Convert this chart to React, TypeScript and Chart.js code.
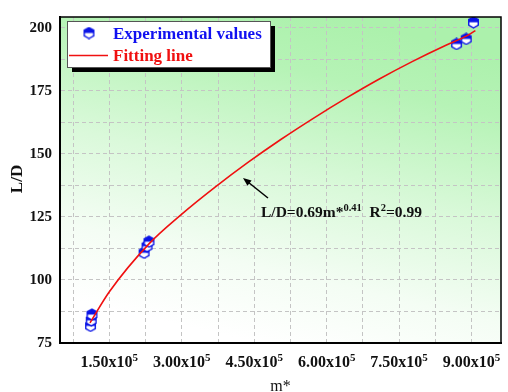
import React, { useEffect, useRef } from "react";
import { Chart, registerables } from "chart.js";

Chart.register(...registerables);

// Measured samples (m*, L/D)
const expM = [111000, 112500, 114000, 222000, 228000, 232000, 869000, 889000, 904000];
const expLD = [81.8, 84.0, 86.3, 110.8, 113.4, 115.2, 193.6, 195.6, 202.2];

// Fitted power-law curve, sampled along m*
const fitM = [110000, 150000, 232000, 300000, 369000, 437000, 505000, 574000, 642000, 710000, 778000, 847000, 888000, 908000];
const fitLD = [83.0, 95.3, 114.3, 126.1, 136.8, 146.6, 155.7, 164.3, 172.3, 179.8, 186.7, 193.1, 196.6, 198.9];

// Axis ticks
const xGridTicks = [75000, 150000, 225000, 300000, 375000, 450000, 525000, 600000, 675000, 750000, 825000, 900000];
const xLabelTicks = [150000, 300000, 450000, 600000, 750000, 900000];
const xLabelMantissa = ["1.50", "3.00", "4.50", "6.00", "7.50", "9.00"];
const xLabelExponent = "5";
const yGridTicks = [75, 87.5, 100, 112.5, 125, 137.5, 150, 162.5, 175, 187.5, 200];
const yLabelTicks = [75, 100, 125, 150, 175, 200];

const X_MIN = 47800;
const X_MAX = 961000;
const Y_MIN = 75;
const Y_MAX = 204.3;

const SERIF = '"Liberation Serif", "Times New Roman", serif';

function makeHexMarker(size: number): HTMLCanvasElement {
  const c = document.createElement("canvas");
  c.width = size;
  c.height = size;
  const ctx = c.getContext("2d")!;
  const cx = size / 2;
  const cy = size / 2;
  const r = size / 2 - 1;
  const path = () => {
    ctx.beginPath();
    for (let i = 0; i < 6; i++) {
      const a = (-90 + i * 60) * (Math.PI / 180);
      const px = cx + r * Math.cos(a);
      const py = cy + r * Math.sin(a);
      if (i === 0) ctx.moveTo(px, py);
      else ctx.lineTo(px, py);
    }
    ctx.closePath();
  };
  path();
  ctx.fillStyle = "#ffffff";
  ctx.fill();
  ctx.save();
  ctx.beginPath();
  ctx.rect(0, 0, size, cy);
  ctx.clip();
  path();
  ctx.fillStyle = "#0a14e6";
  ctx.fill();
  ctx.restore();
  path();
  ctx.strokeStyle = "#0a14e6";
  ctx.lineWidth = 1.4;
  ctx.stroke();
  return c;
}

type Part = { text: string; sup?: boolean };

function drawRich(
  ctx: CanvasRenderingContext2D,
  parts: Part[],
  x: number,
  y: number,
  size: number,
  supSize: number,
  align: "left" | "center",
  weight = "bold"
) {
  const widths = parts.map((p) => {
    ctx.font = `${weight} ${p.sup ? supSize : size}px ${SERIF}`;
    return ctx.measureText(p.text).width;
  });
  const total = widths.reduce((a, b) => a + b, 0);
  let cx = align === "center" ? x - total / 2 : x;
  ctx.textAlign = "left";
  ctx.textBaseline = "alphabetic";
  parts.forEach((p, i) => {
    ctx.font = `${weight} ${p.sup ? supSize : size}px ${SERIF}`;
    ctx.fillText(p.text, cx, p.sup ? y - size * 0.4 : y);
    cx += widths[i];
  });
}

export default function App() {
  const canvasRef = useRef<HTMLCanvasElement | null>(null);

  useEffect(() => {
    const canvas = canvasRef.current;
    if (!canvas) return;
    const hex = makeHexMarker(13);
    const legendHex = makeHexMarker(13);

    const decor = {
      id: "decor",
      beforeDraw(chart: any) {
        const { ctx, chartArea: a } = chart;
        ctx.save();
        const w = a.right - a.left;
        const g = ctx.createLinearGradient(a.left + w * 0.62, a.top, a.left + w * 0.45, a.bottom);
        g.addColorStop(0, "rgb(172,241,172)");
        g.addColorStop(0.18, "rgb(182,243,182)");
        g.addColorStop(0.5, "rgb(218,249,218)");
        g.addColorStop(0.78, "rgb(244,253,244)");
        g.addColorStop(1, "rgb(255,255,255)");
        ctx.fillStyle = g;
        ctx.fillRect(a.left, a.top, w, a.bottom - a.top);
        ctx.restore();
      },
      afterDraw(chart: any) {
        const { ctx, chartArea: a } = chart;
        const xs = chart.scales.x;
        ctx.save();

        // frame
        ctx.strokeStyle = "#000";
        ctx.lineWidth = 1.5;
        ctx.strokeRect(a.left, a.top, a.right - a.left, a.bottom - a.top);
        ctx.lineWidth = 2;
        ctx.beginPath();
        ctx.moveTo(a.left, a.top);
        ctx.lineTo(a.left, a.bottom);
        ctx.lineTo(a.right, a.bottom);
        ctx.stroke();

        // x tick labels with superscript exponent
        ctx.fillStyle = "#111";
        xLabelTicks.forEach((v, i) => {
          const px = xs.getPixelForValue(v);
          drawRich(
            ctx,
            [{ text: `${xLabelMantissa[i]}x10` }, { text: xLabelExponent, sup: true }],
            px,
            367,
            16,
            11,
            "center"
          );
        });

        // axis titles
        ctx.font = `16px ${SERIF}`;
        ctx.textAlign = "center";
        ctx.textBaseline = "alphabetic";
        ctx.fillText("m*", (a.left + a.right) / 2, 391);

        ctx.save();
        ctx.translate(22, 179);
        ctx.rotate(-Math.PI / 2);
        ctx.font = `bold 17px ${SERIF}`;
        ctx.textAlign = "center";
        ctx.fillText("L/D", 0, 0);
        ctx.restore();

        // legend box with drop shadow
        const lx = 67, ly = 21, lw = 203, lh = 46;
        ctx.fillStyle = "#000";
        ctx.fillRect(lx + 5, ly + 5, lw, lh);
        ctx.fillStyle = "#fff";
        ctx.fillRect(lx, ly, lw, lh);
        ctx.strokeStyle = "#555";
        ctx.lineWidth = 1;
        ctx.strokeRect(lx + 0.5, ly + 0.5, lw, lh);
        ctx.drawImage(legendHex, 89 - 6.5, 33 - 6.5);
        ctx.strokeStyle = "#f01010";
        ctx.lineWidth = 1.5;
        ctx.beginPath();
        ctx.moveTo(69, 55.5);
        ctx.lineTo(108, 55.5);
        ctx.stroke();
        ctx.textAlign = "left";
        ctx.font = `bold 17px ${SERIF}`;
        ctx.fillStyle = "#1010f0";
        ctx.fillText("Experimental values", 113, 39);
        ctx.fillStyle = "#f01010";
        ctx.fillText("Fitting line", 113, 61);

        // arrow pointing to the fitted curve
        ctx.strokeStyle = "#000";
        ctx.fillStyle = "#000";
        ctx.lineWidth = 1.5;
        const x0 = 268, y0 = 198, x1 = 243, y1 = 178;
        const ang = Math.atan2(y1 - y0, x1 - x0);
        ctx.beginPath();
        ctx.moveTo(x0, y0);
        ctx.lineTo(x1 - Math.cos(ang) * 4, y1 - Math.sin(ang) * 4);
        ctx.stroke();
        ctx.beginPath();
        ctx.moveTo(x1, y1);
        ctx.lineTo(x1 - 9 * Math.cos(ang - 0.38), y1 - 9 * Math.sin(ang - 0.38));
        ctx.lineTo(x1 - 9 * Math.cos(ang + 0.38), y1 - 9 * Math.sin(ang + 0.38));
        ctx.closePath();
        ctx.fill();

        // fit equation
        ctx.fillStyle = "#111";
        drawRich(
          ctx,
          [
            { text: "L/D=0.69m*" },
            { text: "0.41", sup: true },
            { text: "  R" },
            { text: "2", sup: true },
            { text: "=0.99" },
          ],
          261,
          217,
          15.5,
          10.5,
          "left"
        );
        ctx.restore();
      },
    };

    const chart = new Chart(canvas, {
      type: "scatter",
      data: {
        datasets: [
          {
            label: "Fitting line",
            data: fitM.map((m, i) => ({ x: m, y: fitLD[i] })),
            showLine: true,
            borderColor: "#f01010",
            borderWidth: 1.6,
            pointRadius: 0,
            cubicInterpolationMode: "monotone",
            order: 0,
          },
          {
            label: "Experimental values",
            data: expM.map((m, i) => ({ x: m, y: expLD[i] })),
            pointStyle: hex,
            pointRadius: 6,
            order: 1,
          },
        ],
      },
      options: {
        animation: false,
        responsive: false,
        devicePixelRatio: 1,
        layout: { padding: { top: 15, right: 2, left: 0, bottom: 0 } },
        plugins: { legend: { display: false }, tooltip: { enabled: false } },
        scales: {
          x: {
            type: "linear",
            min: X_MIN,
            max: X_MAX,
            afterBuildTicks: (s: any) => {
              s.ticks = xGridTicks.map((v) => ({ value: v }));
            },
            afterFit: (s: any) => {
              s.height = 49;
            },
            ticks: { display: false },
            grid: { color: "#c4c4c4", lineWidth: 1, drawTicks: false },
            border: { display: true, color: "#000", width: 2, dash: [4, 3] },
          },
          y: {
            type: "linear",
            min: Y_MIN,
            max: Y_MAX,
            afterBuildTicks: (s: any) => {
              s.ticks = yGridTicks.map((v) => ({ value: v }));
            },
            afterFit: (s: any) => {
              s.width = 60;
            },
            ticks: {
              padding: 8,
              color: "#111",
              font: { family: SERIF, size: 15, weight: "bold" },
              callback: (v: any) => (yLabelTicks.includes(Number(v)) ? String(v) : ""),
            },
            grid: { color: "#c4c4c4", lineWidth: 1, drawTicks: false },
            border: { display: true, color: "#000", width: 2, dash: [4, 3] },
          },
        },
      } as any,
      plugins: [decor],
    });

    return () => chart.destroy();
  }, []);

  return (
    <div style={{ position: "fixed", left: 0, top: 0, width: 508, height: 392, background: "#fff" }}>
      <canvas ref={canvasRef} width={508} height={392} style={{ display: "block" }} />
    </div>
  );
}
